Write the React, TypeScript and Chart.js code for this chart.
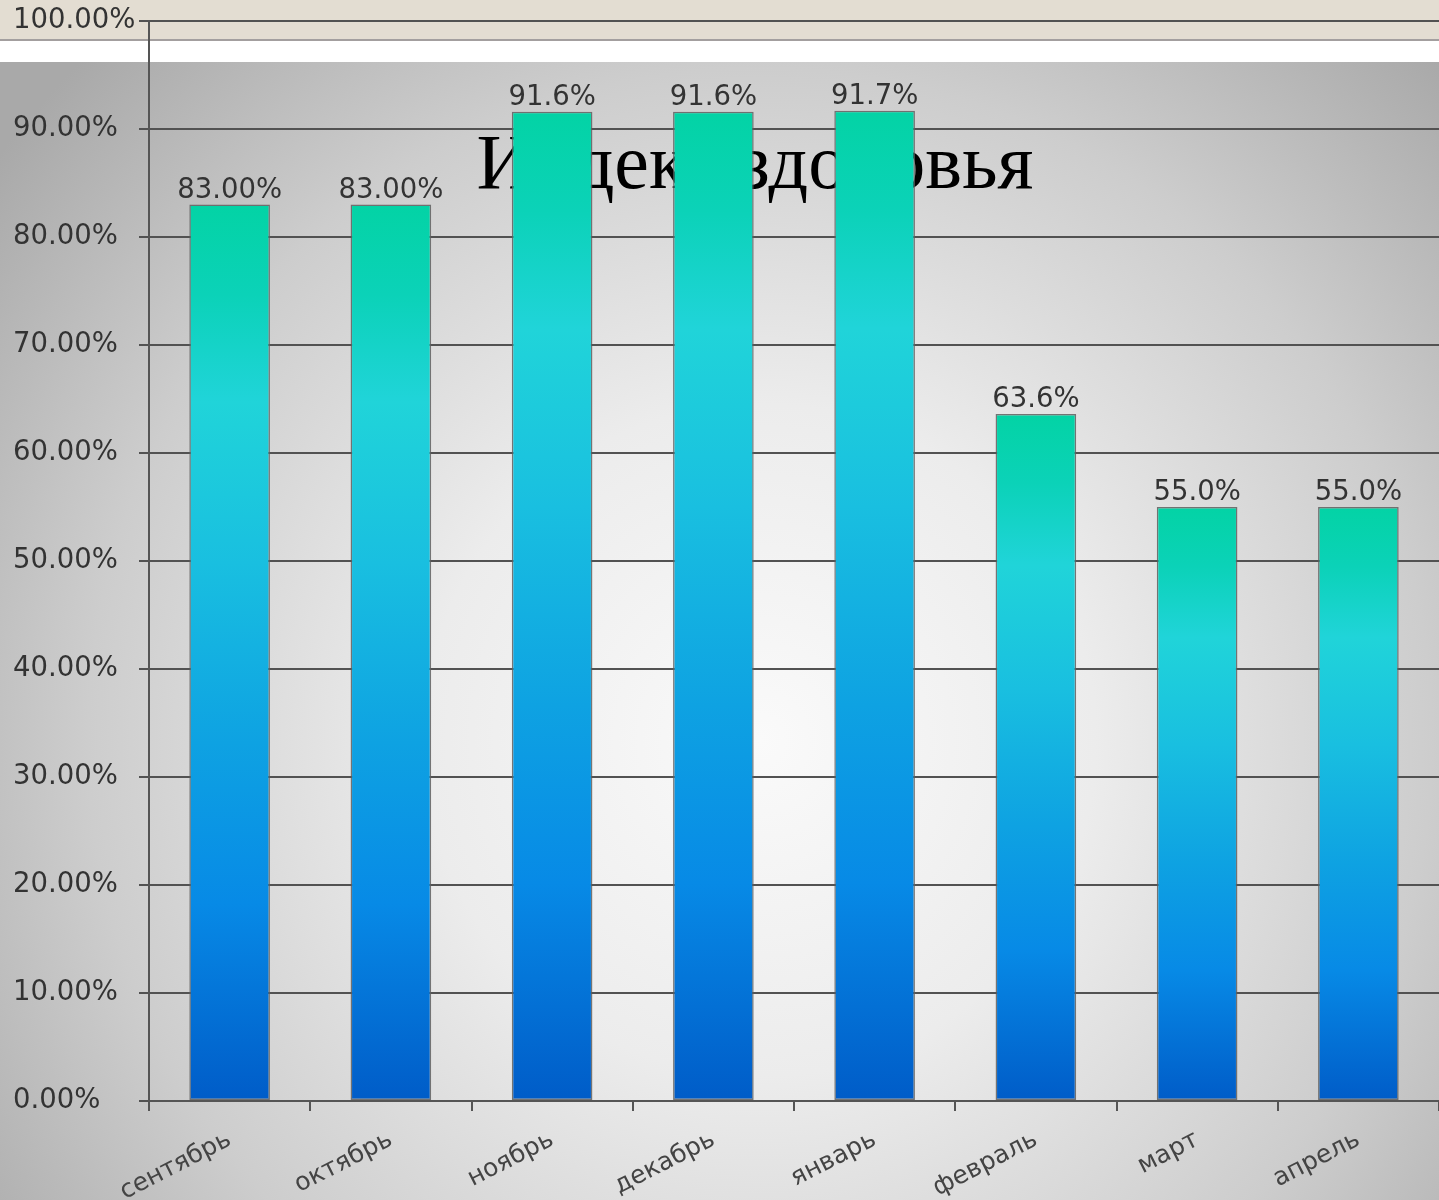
import React, { useEffect, useRef } from "react";
import { Chart, registerables } from "chart.js";

Chart.register(...registerables);

const TITLE = "Индекс здоровья";
const months = ["сентябрь", "октябрь", "ноябрь", "декабрь", "январь", "февраль", "март", "апрель"];
const healthIndex = [83.0, 83.0, 91.6, 91.6, 91.7, 63.6, 55.0, 55.0];
const valueLabels = ["83.00%", "83.00%", "91.6%", "91.6%", "91.7%", "63.6%", "55.0%", "55.0%"];
const yTickMax = 100;
const yTickStep = 10;

const FONT = "'DejaVu Sans', Verdana, sans-serif";

const backgroundPlugin = {
  id: "bgPlugin",
  beforeDraw(chart: any) {
    const { ctx, width, height } = chart;
    ctx.save();
    const g = ctx.createRadialGradient(760, 740, 0, 760, 740, 960);
    g.addColorStop(0, "#fafafa");
    g.addColorStop(0.35, "#ececec");
    g.addColorStop(0.7, "#cdcdcd");
    g.addColorStop(1, "#a9a9a9");
    ctx.fillStyle = g;
    ctx.fillRect(0, 0, width, height);
    ctx.fillStyle = "#e3ddd2";
    ctx.fillRect(0, 0, width, 40);
    ctx.fillStyle = "#a39f9f";
    ctx.fillRect(0, 39, width, 2);
    ctx.fillStyle = "#ffffff";
    ctx.fillRect(0, 41, width, 21);
    ctx.restore();
  },
  beforeDatasetsDraw(chart: any) {
    const { ctx } = chart;
    ctx.save();
    ctx.fillStyle = "#000000";
    ctx.font = "78px 'Liberation Serif', 'Times New Roman', serif";
    ctx.textAlign = "center";
    ctx.textBaseline = "alphabetic";
    ctx.fillText(TITLE, 755, 188);
    ctx.restore();
  },
  afterDatasetsDraw(chart: any) {
    const { ctx } = chart;
    const meta = chart.getDatasetMeta(0);
    ctx.save();
    ctx.fillStyle = "#333333";
    ctx.font = `27.5px ${FONT}`;
    ctx.textAlign = "center";
    ctx.textBaseline = "alphabetic";
    meta.data.forEach((bar: any, i: number) => {
      ctx.fillText(valueLabels[i], bar.x, bar.y - 7);
    });
    ctx.restore();
  },
};

export default function App() {
  const ref = useRef<HTMLCanvasElement | null>(null);

  useEffect(() => {
    document.body.style.margin = "0";
    const canvas = ref.current;
    if (!canvas) return;
    const chart = new Chart(canvas, {
      type: "bar",
      data: {
        labels: months,
        datasets: [
          {
            data: healthIndex,
            barPercentage: 0.5,
            categoryPercentage: 1,
            borderWidth: 1.5,
            borderColor: "rgba(95,95,95,0.85)",
            borderSkipped: false,
            backgroundColor: (c: any) => {
              const chart = c.chart;
              const ys = chart.scales && chart.scales.y;
              if (!ys || c.raw == null) return "#1aa0e0";
              const top = ys.getPixelForValue(c.raw);
              const base = ys.getPixelForValue(0);
              if (!isFinite(top) || !isFinite(base) || base === top) return "#1aa0e0";
              const g = chart.ctx.createLinearGradient(0, top, 0, base);
              g.addColorStop(0, "#03d3a5");
              g.addColorStop(0.1, "#0bd2b8");
              g.addColorStop(0.22, "#20d4d9");
              g.addColorStop(0.4, "#19bfe0");
              g.addColorStop(0.6, "#0ea2e2");
              g.addColorStop(0.78, "#078ae6");
              g.addColorStop(1, "#005cc8");
              return g;
            },
          },
        ],
      },
      options: {
        responsive: false,
        animation: false,
        layout: { padding: { top: 21, left: 13, right: 0, bottom: 0 } },
        plugins: {
          legend: { display: false },
          title: { display: false },
          tooltip: { enabled: false },
        },
        scales: {
          x: {
            offset: true,
            grid: {
              offset: true,
              drawOnChartArea: false,
              drawTicks: true,
              tickLength: 10,
              color: "#555555",
              lineWidth: 2,
            },
            border: { display: true, color: "#555555", width: 2 },
            ticks: {
              color: "#444444",
              font: { family: FONT, size: 25 },
              minRotation: 27,
              maxRotation: 27,
              padding: 14,
            },
            afterFit: (scale: any) => {
              scale.height = 99;
            },
          },
          y: {
            min: 0,
            max: yTickMax,
            grid: {
              color: "#525252",
              lineWidth: 2,
              tickLength: 10,
            },
            border: { display: true, color: "#555555", width: 2 },
            ticks: {
              stepSize: yTickStep,
              crossAlign: "far",
              color: "#333333",
              font: { family: FONT, size: 27.5 },
              callback: (v: any) => Number(v).toFixed(2) + "%",
            },
            afterFit: (scale: any) => {
              scale.width = 136;
            },
          },
        },
      },
      plugins: [backgroundPlugin],
    });
    return () => chart.destroy();
  }, []);

  return (
    <div style={{ position: "absolute", left: 0, top: 0, width: 1439, height: 1200 }}>
      <canvas ref={ref} width={1439} height={1200} style={{ display: "block" }} />
    </div>
  );
}
